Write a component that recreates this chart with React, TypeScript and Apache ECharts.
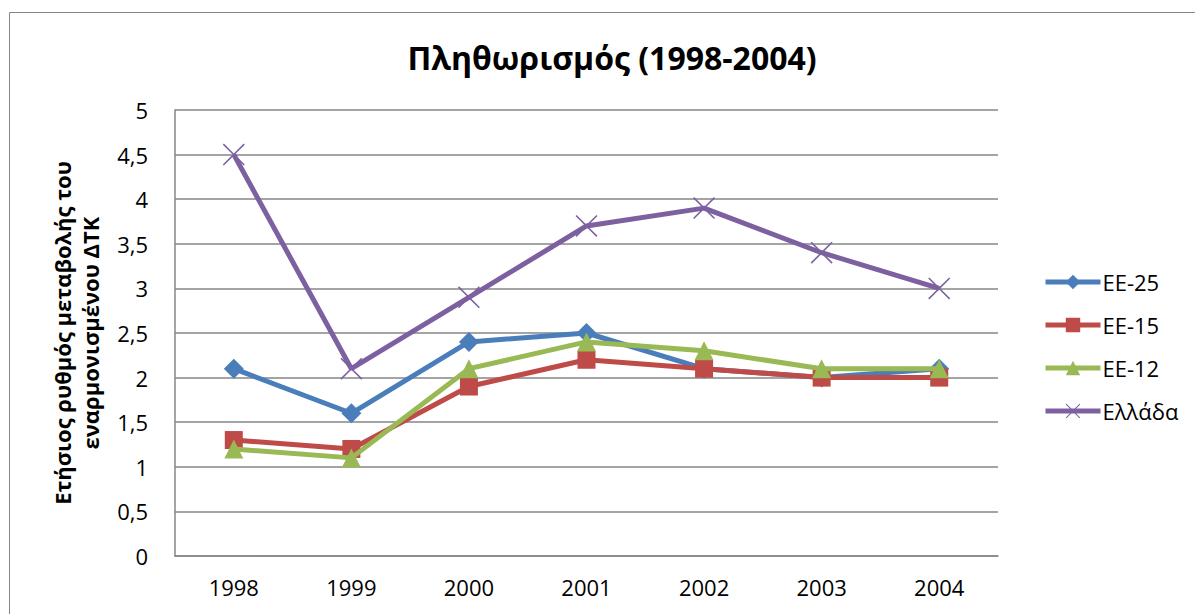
import React, { useEffect, useRef } from "react";
import * as echarts from "echarts";

const years = ["1998", "1999", "2000", "2001", "2002", "2003", "2004"];
const ee25 = [2.1, 1.6, 2.4, 2.5, 2.1, 2.0, 2.1];
const ee15 = [1.3, 1.2, 1.9, 2.2, 2.1, 2.0, 2.0];
const ee12 = [1.2, 1.1, 2.1, 2.4, 2.3, 2.1, 2.1];
const greece = [4.5, 2.1, 2.9, 3.7, 3.9, 3.4, 3.0];
const seriesNames = ["ΕΕ-25", "ΕΕ-15", "ΕΕ-12", "Ελλάδα"];

const FONT = "'Open Sans', 'Noto Sans', sans-serif";
const X_SYMBOL =
  "path://M0,1 L1,0 L10,9 L19,0 L20,1 L11,10 L20,19 L19,20 L10,11 L1,20 L0,19 L9,10 Z";

export default function App() {
  const ref = useRef<HTMLDivElement>(null);
  useEffect(() => {
    if (!ref.current) return;
    const chart = echarts.init(ref.current, undefined, { renderer: "svg" });
    const colors = ["#4A7EBB", "#BE4B48", "#98B954", "#7D60A0"];
    const symbols = ["diamond", "rect", "triangle", X_SYMBOL];
    const sizes = [20, 18, 19, 22];
    const data = [ee25, ee15, ee12, greece];
    chart.setOption({
      animation: false,
      color: colors,
      textStyle: { fontFamily: FONT },
      title: {
        text: "Πληθωρισμός (1998-2004)",
        left: 607,
        textAlign: "center",
        top: 36,
        textStyle: { fontFamily: FONT, fontSize: 32, fontWeight: "bold", color: "#000" },
      },
      graphic: [
        {
          type: "rect",
          shape: { x: 9.5, y: 12.5, width: 1200, height: 620 },
          style: { fill: "none", stroke: "#868686", lineWidth: 1 },
          silent: true,
        },
        {
          type: "text",
          x: 76,
          y: 333,
          rotation: Math.PI / 2,
          style: {
            text: "Ετήσιος ρυθμός μεταβολής του\nεναρμονισμένου ΔΤΚ",
            font: `bold 22px ${FONT}`,
            fill: "#000",
            align: "center",
            verticalAlign: "middle",
            lineHeight: 28,
          },
        },
      ],
      legend: {
        orient: "vertical",
        left: 1038,
        top: 266,
        itemWidth: 55,
        itemHeight: 18,
        itemGap: 21,
        data: seriesNames,
        lineStyle: { width: 5 },
        textStyle: { fontFamily: FONT, fontSize: 22, color: "#000", padding: [0, 0, 0, -3] },
      },
      grid: { left: 175, right: 197, top: 110, bottom: 58, containLabel: false },
      xAxis: {
        type: "category",
        data: years,
        boundaryGap: true,
        axisLine: { lineStyle: { color: "#868686", width: 1.5 } },
        axisTick: { show: false },
        axisLabel: { fontFamily: FONT, fontSize: 22, color: "#000", margin: 20 },
      },
      yAxis: {
        type: "value",
        min: 0,
        max: 5,
        interval: 0.5,
        axisLine: { show: true, lineStyle: { color: "#868686", width: 1.5 } },
        axisTick: { show: false },
        splitLine: { lineStyle: { color: "#868686", width: 1.5 } },
        axisLabel: {
          fontFamily: FONT,
          fontSize: 22,
          color: "#000",
          margin: 27,
          formatter: (v: number) => String(v).replace(".", ","),
        },
      },
      series: seriesNames.map((name, i) => ({
        name,
        type: "line",
        data: data[i],
        symbol: symbols[i],
        symbolSize: sizes[i],
        showAllSymbol: true,
        lineStyle: { width: 5, color: colors[i] },
        itemStyle: { color: colors[i] },
        z: 2 + i,
      })),
    });
    return () => chart.dispose();
  }, []);
  return (
    <div
      ref={ref}
      style={{ position: "absolute", left: 0, top: 0, width: 1195, height: 614 }}
    />
  );
}
